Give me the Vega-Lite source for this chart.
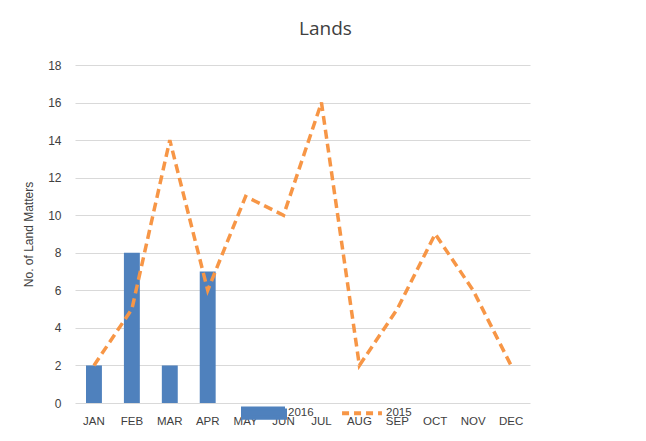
{
  "$schema": "https://vega.github.io/schema/vega-lite/v6.json",
  "width": 455,
  "height": 338,
  "autosize": "none",
  "padding": {"left": 75, "top": 65, "right": 116, "bottom": 38},
  "background": "white",
  "title": {"text": "Lands", "fontSize": 19, "font": "Open Sans", "fontWeight": "normal", "color": "#404040", "offset": 20, "dx": 23, "anchor": "middle"},
  "config": {
    "view": {"stroke": null},
    "font": "Liberation Sans",
    "axis": {"labelColor": "#404040", "labelFontSize": 12, "titleColor": "#404040", "titleFontWeight": "normal", "titleFontSize": 12, "ticks": false, "domain": false, "gridColor": "#d9d9d9"}
  },
  "data": {"values": [
    {"month": "JAN", "series": "2016", "value": 2},
    {"month": "FEB", "series": "2016", "value": 8},
    {"month": "MAR", "series": "2016", "value": 2},
    {"month": "APR", "series": "2016", "value": 7},
    {"month": "JAN", "series": "2015", "value": 2},
    {"month": "FEB", "series": "2015", "value": 5},
    {"month": "MAR", "series": "2015", "value": 14},
    {"month": "APR", "series": "2015", "value": 6},
    {"month": "MAY", "series": "2015", "value": 11},
    {"month": "JUN", "series": "2015", "value": 10},
    {"month": "JUL", "series": "2015", "value": 16},
    {"month": "AUG", "series": "2015", "value": 2},
    {"month": "SEP", "series": "2015", "value": 5},
    {"month": "OCT", "series": "2015", "value": 9},
    {"month": "NOV", "series": "2015", "value": 6},
    {"month": "DEC", "series": "2015", "value": 2}
  ]},
  "encoding": {
    "x": {"field": "month", "type": "nominal", "sort": ["JAN","FEB","MAR","APR","MAY","JUN","JUL","AUG","SEP","OCT","NOV","DEC"],
      "scale": {"domain": ["JAN","FEB","MAR","APR","MAY","JUN","JUL","AUG","SEP","OCT","NOV","DEC"], "paddingInner": 0.58, "paddingOuter": 0.29},
      "axis": {"title": null, "labelAngle": 0, "labelPadding": 12, "labelFontSize": 11.5}},
    "y": {"field": "value", "type": "quantitative", "scale": {"domain": [0, 18]},
      "axis": {"values": [0,2,4,6,8,10,12,14,16,18], "title": "No. of Land Matters", "titlePadding": 12, "labelPadding": 14}},
    "color": {"field": "series", "type": "nominal",
      "scale": {"domain": ["2016", "2015"], "range": ["#4F81BD", "#F79646"]},
      "legend": {"title": null, "orient": "none", "direction": "horizontal", "legendX": 166, "legendY": 325,
        "symbolType": "M-1,-0.22H1V0.22H-1Z", "symbolSize": 1764, "labelFontSize": 11.5, "labelColor": "#404040", "labelOffset": 1, "columnPadding": 20,
        "encode": {"symbols": {"update": {
          "shape": {"signal": "datum.value === '2016' ? 'M-1,-0.22H1V0.22H-1Z' : 'M-0.95,-0.22L-0.95,-0.22M-0.95,0.22L-0.95,0.22M-0.95,0H0.95'"},
          "fill": {"signal": "datum.value === '2016' ? '#4F81BD' : 'transparent'"},
          "stroke": {"signal": "datum.value === '2016' ? 'transparent' : '#F79646'"},
          "strokeWidth": {"value": 4},
          "strokeDash": {"signal": "datum.value === '2016' ? [1,0] : [7,5]"},
          "size": {"value": 1764}
        }}}}}
  },
  "layer": [
    {"transform": [{"filter": "datum.series === '2016'"}], "mark": {"type": "bar"}},
    {"transform": [{"filter": "datum.series === '2015'"}], "mark": {"type": "line", "strokeWidth": 3.5, "strokeDash": [9, 5]}}
  ]
}
